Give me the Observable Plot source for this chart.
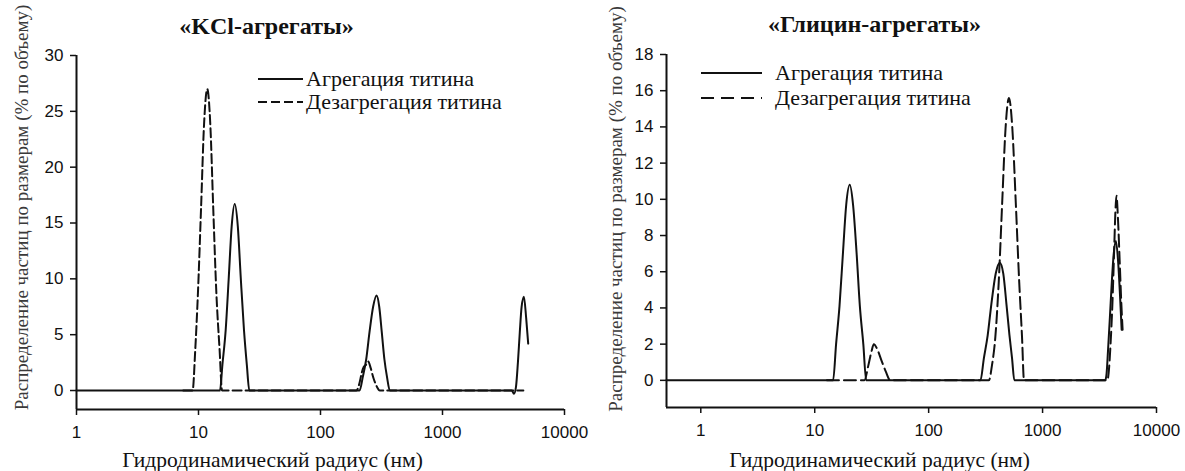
<!DOCTYPE html>
<html><head><meta charset="utf-8">
<script src="https://cdn.jsdelivr.net/npm/d3@7"></script>
<script src="https://cdn.jsdelivr.net/npm/@observablehq/plot@0.6"></script>
<style>
body{margin:0;background:#fff}
#wrap{position:relative;width:1185px;height:471px;background:#fff}
.p{position:absolute;top:0}
</style>
</head><body><div id="wrap"></div>
<script>
// ---------- data ----------
const xTicks = [1, 10, 100, 1000, 10000];
const kclYTicks = [0, 5, 10, 15, 20, 25, 30];
const glyYTicks = [0, 2, 4, 6, 8, 10, 12, 14, 16, 18];
const seriesNames = ["Агрегация титина", "Дезагрегация титина"];
const titles = ["«KCl-агрегаты»", "«Глицин-агрегаты»"];
const xLabel = "Гидродинамический радиус (нм)";
const yLabel = "Распределение частиц по размерам (% по объему)";
const kclXDomain = [1, 10000], kclYDomain = [-1.7, 30];
const glyXDomain = [0.5, 10000], glyYDomain = [-1.5, 18];

// [radius nm, % volume]
const kclAgg = [[1,0],[15.0,0],[15.7,2.3],[16.7,5.4],[17.7,10.1],[18.7,14.7],[19.8,16.7],[21.0,14.7],[22.2,10.1],[23.6,5.4],[24.9,2.3],[26.1,0],
  [209,0],[222,1.2],[237,2.8],[252,5.2],[270,7.5],[288,8.5],[303,7.5],[318,5.2],[334,2.8],[351,1.2],[370,0],
  [3700,0],[3850,-0.3],[4000,0.3],[4150,2.5],[4300,5.2],[4450,7.5],[4650,8.4],[4850,6.5],[5040,4.2]];
const kclDis = [[7.5,0],[8.95,0],[9.4,3.6],[9.9,8.8],[10.5,16.4],[11.1,23.8],[11.8,27.0],[12.5,23.8],[13.2,16.4],[14.0,8.8],[14.9,3.6],[15.6,0],
  [197,0],[208,0.6],[218,1.6],[226,2.1],[236,2.3],[246,2.6],[258,2.0],[272,1.1],[288,0.4],[306,0],[4600,0]];
const glyAgg = [[0.5,0],[14.5,0],[15.4,2.0],[16.5,4.1],[17.7,7.05],[18.9,9.7],[20.3,10.8],[21.7,9.7],[23.3,7.05],[24.9,4.1],[26.7,2.0],[28.3,0],
  [285,0],[305,1.2],[330,2.5],[355,4.2],[388,5.9],[421,6.5],[452,5.9],[482,4.2],[512,2.5],[540,1.2],[565,0],
  [3550,0],[3650,0.4],[3750,1.6],[3900,3.5],[4050,5.4],[4200,6.9],[4400,7.7],[4600,6.6],[4800,4.5],[4943,2.8]];
const glyDis = [[12.8,0],[27.3,0],[29.5,0.8],[31.5,1.6],[33,2.0],[35.5,1.7],[38.5,1.1],[42,0.5],[46,0],
  [338,0],[359,0.8],[385,2.4],[412,5.4],[442,9.8],[473,13.9],[507,15.6],[543,13.9],[582,9.8],[624,5.4],[660,2.4],[687,0],
  [3700,0],[3800,0.4],[3950,2.0],[4100,4.2],[4250,7.2],[4350,9.2],[4450,10.2],[4600,8.8],[4750,6.6],[4900,4.4],[5040,2.8]];

// ---------- drawing ----------
const SERIF = "'Liberation Serif','Times New Roman',serif";
const SANS = "'Liberation Sans',Arial,sans-serif";
const INK = "#111";

function panel(o) {
  const svg = Plot.plot({
    width: o.width, height: 471,
    marginLeft: o.ml, marginRight: o.mr, marginTop: o.mt, marginBottom: o.mb,
    x: {type: "log", domain: o.xDomain},
    y: {domain: o.yDomain},
    style: {fontFamily: SANS, fontSize: "17px", color: INK, background: "white", overflow: "visible"},
    marks: [
      Plot.ruleX([o.xDomain[0]], {stroke: INK, strokeWidth: 2}),
      Plot.ruleY([o.yDomain[0]], {stroke: INK, strokeWidth: 2}),
      Plot.axisX({ticks: xTicks, tickFormat: d => String(d), tickSize: 6, tickPadding: 10, label: null, strokeWidth: 1.5, fontSize: 17, fontFamily: SANS}),
      Plot.axisY({ticks: o.yTicks, tickFormat: d => String(d), tickSize: 6, tickPadding: 7, label: null, strokeWidth: 1.5, fontSize: 17, fontFamily: SANS}),
      Plot.line(o.agg, {x: d => d[0], y: d => d[1], stroke: INK, strokeWidth: 2, curve: "monotone-x"}),
      Plot.line(o.dis, {x: d => d[0], y: d => d[1], stroke: INK, strokeWidth: 2, strokeDasharray: o.dash, curve: "monotone-x"}),
      Plot.text([o.title], {text: d => d, frameAnchor: "top", textAnchor: "middle", lineAnchor: "middle", dx: o.titleDx, dy: o.titleDy, fontFamily: SERIF, fontWeight: "bold", fontSize: 24, fill: INK}),
      Plot.text([xLabel], {text: d => d, frameAnchor: "bottom", textAnchor: "middle", lineAnchor: "middle", dx: o.xlDx, dy: o.xlDy, fontFamily: SERIF, fontSize: 21.5, fill: INK}),
      Plot.text([yLabel], {text: d => d, frameAnchor: "left", textAnchor: "middle", lineAnchor: "middle", rotate: -90, dx: o.ylDx, dy: o.ylDy, fontFamily: SERIF, fontSize: 19, fill: "#3a3a3a"})
    ]
  });
  // legend
  const g = d3.select(svg).append("g");
  seriesNames.forEach((name, i) => {
    const y = o.legY[i];
    g.append("line").attr("x1", o.legX1).attr("x2", o.legX2).attr("y1", y).attr("y2", y)
      .attr("stroke", INK).attr("stroke-width", 2).attr("stroke-dasharray", i ? o.legDash : null);
    g.append("text").attr("x", o.legTx).attr("y", y).attr("dy", "0.33em").attr("text-anchor", "start")
      .attr("font-family", SERIF).attr("font-size", 22).attr("fill", INK).text(name);
  });
  svg.classList.add("p");
  svg.style.left = o.left + "px";
  document.getElementById("wrap").appendChild(svg);
}

panel({left: 0, width: 592, ml: 76, mr: 28, mt: 55, mb: 62,
  xDomain: kclXDomain, yDomain: kclYDomain, yTicks: kclYTicks,
  agg: kclAgg, dis: kclDis, dash: "9,4", title: titles[0],
  titleDx: -54, titleDy: -29, xlDx: -48, xlDy: 51, ylDx: -55, ylDy: -25,
  legX1: 258, legX2: 303, legTx: 306, legY: [79, 102], legDash: "9,4"});

panel({left: 592, width: 593, ml: 74, mr: 29, mt: 54, mb: 64,
  xDomain: glyXDomain, yDomain: glyYDomain, yTicks: glyYTicks,
  agg: glyAgg, dis: glyDis, dash: "12,5", title: titles[1],
  titleDx: -37, titleDy: -30, xlDx: -32, xlDy: 53, ylDx: -51, ylDy: -22,
  legX1: 109, legX2: 170, legTx: 183, legY: [73, 98], legDash: "13,7"});
</script></body></html>
